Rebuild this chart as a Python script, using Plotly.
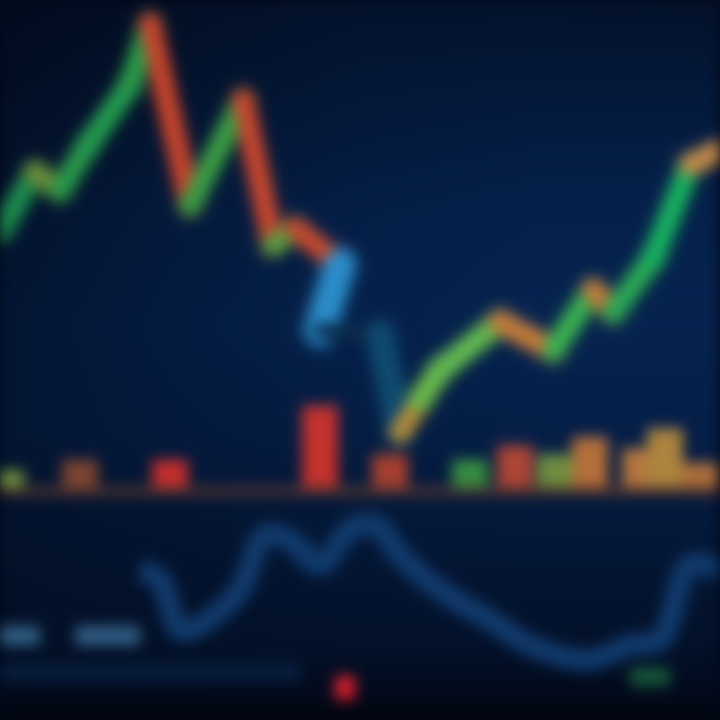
import plotly.graph_objects as go

# ---------------- data ----------------
# price line (day index, price)
price_day = [0, 3.5, 6, 8.8, 13, 15, 19, 24.3, 27.3, 29.5, 34, 32, 38, 40, 42, 44, 50, 55.3, 59.3, 61.3, 65.3, 69, 72]
price_val = [122, 137, 132.5, 143.8, 158.8, 174, 128.8, 155, 118.8, 123, 114, 97.5, 96.5, 72, 80, 87.5, 99.5, 92.5, 107.5, 102, 115.5, 138.8, 142.5]
seg_color = ["#1c8a4c", "#6a8a3a", "#28984a", "#239a4e", "#2a9a48", "#c4442c", "#3a9c44", "#c4462e",
             "#5a9a40", "#c04a30", "#2a8cc8", "#0a2a4a", "#0f4a6e", "#b08a3a", "#6ab84a", "#62b850",
             "#c07a3a", "#3ab050", "#c0783a", "#2aa855", "#18b060", "#c08a48"]
seg_width = [21, 21, 21, 21, 21, 21, 21, 21, 21, 21, 30, 14, 26, 21, 22, 22, 22, 21, 21, 21, 21, 21]

# volume bars (day index, volume)
vol_day = [0.6, 8, 17, 32, 39, 47, 51.5, 55.5, 59, 64, 66.5, 70]
vol_val = [12.6, 20, 20, 58, 24, 20, 30, 24, 36, 28, 42, 18]
vol_color = ["#7aa040", "#8a4a30", "#d8302a", "#d8352c", "#b8442e", "#3a9a40", "#c04a34",
             "#7a9a40", "#c8783a", "#c8803e", "#c0903e", "#c0783a"]

# indicator line (day index, value)
ind_day = [14, 16, 18, 20, 24, 26.5, 29, 32, 35, 37.5, 40, 44, 49, 53, 59, 63, 66, 69, 72]
ind_val = [69.4, 64.8, 41.7, 44, 60.2, 85.6, 83.3, 71.8, 88, 90.3, 76.4, 60.2, 46.3, 34.7, 27.8, 34.7, 37, 71.8, 69.4]

# signal blobs (day index, value)
sig_day = [[0, 4], [7.5, 14]]
sig_val = [[39, 39], [39, 39]]

fig = go.Figure()

# ---------------- background gradient ----------------
bg_x = [0, 0.25, 0.5, 0.75, 1]
bg_y = [0, 0.03, 0.1, 0.25, 0.4, 0.55, 0.7, 0.85, 1]
bg_z = [
    [0.00, 0.00, 0.00, 0.00, 0.00],
    [0.18, 0.18, 0.18, 0.18, 0.18],
    [0.30, 0.32, 0.34, 0.34, 0.34],
    [0.36, 0.42, 0.48, 0.50, 0.50],
    [0.45, 0.55, 0.62, 0.66, 0.66],
    [0.45, 0.60, 0.70, 0.78, 0.78],
    [0.40, 0.55, 0.66, 0.72, 0.72],
    [0.30, 0.42, 0.52, 0.56, 0.56],
    [0.22, 0.30, 0.38, 0.38, 0.36],
]
fig.add_trace(go.Heatmap(x=bg_x, y=bg_y, z=bg_z, zsmooth="best", showscale=False, hoverinfo="skip",
                         zmin=0, zmax=1,
                         colorscale=[[0, "#010409"], [0.2, "#020a1c"], [0.45, "#031532"],
                                     [0.7, "#05204a"], [1, "#082c5c"]],
                         xaxis="x", yaxis="y"))

# ---------------- volume ----------------
fig.add_trace(go.Scatter(x=[0, 72], y=[-2, -2], mode="lines", line=dict(color="#5a3a30", width=9),
                         opacity=0.85, xaxis="x2", yaxis="y3", hoverinfo="skip"))
fig.add_trace(go.Bar(x=vol_day, y=vol_val, width=3.6, marker=dict(color=vol_color, line=dict(width=0)),
                     opacity=0.9, xaxis="x2", yaxis="y3", hoverinfo="skip"))

# ---------------- indicator ----------------
fig.add_trace(go.Scatter(x=[0, 30], y=[22, 22], mode="lines", line=dict(color="#0f3460", width=18),
                         opacity=0.45, xaxis="x2", yaxis="y4", hoverinfo="skip"))
for sx, sy in zip(sig_day, sig_val):
    fig.add_trace(go.Scatter(x=sx, y=sy, mode="lines", line=dict(color="#386a92", width=20),
                             opacity=0.85, xaxis="x2", yaxis="y4", hoverinfo="skip"))
fig.add_trace(go.Scatter(x=ind_day, y=ind_val, mode="lines", line=dict(color="#123f72", width=22, shape="spline"),
                         opacity=0.9, xaxis="x2", yaxis="y4", hoverinfo="skip"))
fig.add_trace(go.Scatter(x=[33.5, 35.5], y=[15, 15], mode="lines", line=dict(color="#e0202e", width=24),
                         opacity=0.95, xaxis="x2", yaxis="y4", hoverinfo="skip"))
fig.add_trace(go.Scatter(x=[63, 67], y=[20, 20], mode="lines", line=dict(color="#1d7040", width=18),
                         opacity=0.75, xaxis="x2", yaxis="y4", hoverinfo="skip"))

# ---------------- price line ----------------
for scale, op in [(1.5, 0.2), (1.0, 1.0)]:
    for i in range(len(price_day) - 1):
        w = seg_width[i] * scale
        fig.add_trace(go.Scatter(x=[price_day[i], price_day[i + 1]], y=[price_val[i], price_val[i + 1]],
                                 mode="lines+markers",
                                 line=dict(color=seg_color[i], width=w),
                                 marker=dict(color=seg_color[i], size=w, line=dict(width=0)),
                                 opacity=op, xaxis="x2", yaxis="y2", hoverinfo="skip"))

hidden = dict(showticklabels=False, zeroline=False, showline=False, ticks="")
fig.update_layout(
    width=720, height=720, margin=dict(l=0, r=0, t=0, b=0),
    paper_bgcolor="#02081a", plot_bgcolor="#02081a", showlegend=False, barmode="overlay",
    xaxis=dict(range=[0, 1], showgrid=False, **hidden),
    yaxis=dict(range=[0, 1], showgrid=False, **hidden),
    xaxis2=dict(range=[0, 72], overlaying="x", showgrid=True, dtick=1.2,
                gridcolor="rgba(80,120,180,0.12)", gridwidth=1, **hidden),
    yaxis2=dict(range=[0, 180], overlaying="y", showgrid=False, **hidden),
    yaxis3=dict(range=[-162.1, 341.4], overlaying="y", showgrid=False, **hidden),
    yaxis4=dict(range=[0, 333.3], overlaying="y", showgrid=False, **hidden),
)
fig.write_html("out.html", config={"displayModeBar": False})

# soften like the photographed reference and remove page margins
with open("out.html", "r", encoding="utf-8") as f:
    html = f.read()
style = ("<style>html,body{margin:0;padding:0;background:#02081a;overflow:hidden}"
         ".js-plotly-plot .main-svg{filter:blur(7px)}</style>")
html = html.replace("<head>", "<head>" + style, 1)
with open("out.html", "w", encoding="utf-8") as f:
    f.write(html)
